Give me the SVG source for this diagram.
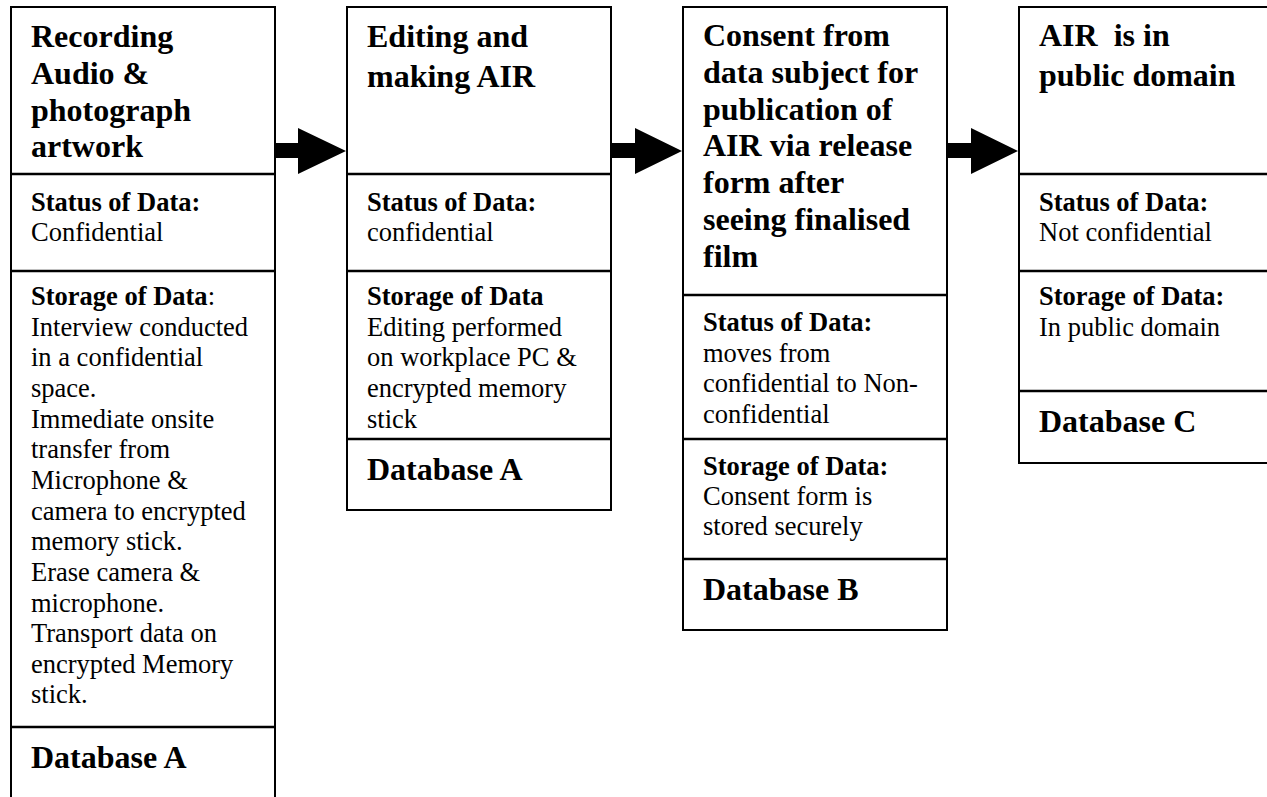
<svg xmlns="http://www.w3.org/2000/svg" width="1267" height="797" viewBox="0 0 1267 797">
<style>
.box{fill:#fff;stroke:#000;stroke-width:2}
.div{stroke:#000;stroke-width:2.5}
text{font-family:"Liberation Serif","Times New Roman",serif;fill:#000}
.t{font-size:32px;font-weight:bold}
.l{font-size:26.5px;font-weight:bold}
.b{font-size:26.5px}
.db{font-size:32px;font-weight:bold}
.arrow{fill:#000}
</style>
<rect width="1267" height="797" fill="#fff"/>
<g id="connectors">
<path class="arrow" d="M275,143 H298 V128 L346,151 L298,174 V158 H275 Z"/>
<path class="arrow" d="M611,143 H635 V128 L682,151 L635,174 V158 H611 Z"/>
<path class="arrow" d="M947,143 H971 V128 L1018,151 L971,174 V158 H947 Z"/>
</g>
<g id="node1">
<rect class="box" x="11" y="7" width="264" height="800"/>
<line class="div" x1="11" y1="174" x2="275" y2="174"/>
<line class="div" x1="11" y1="271" x2="275" y2="271"/>
<line class="div" x1="11" y1="727" x2="275" y2="727"/>
<text class="t" x="31" y="47">Recording</text>
<text class="t" x="31" y="83.8">Audio &amp;</text>
<text class="t" x="31" y="120.6">photograph</text>
<text class="t" x="31" y="157.4">artwork</text>
<text class="l" x="31" y="211">Status of Data:</text>
<text class="b" x="31" y="241">Confidential</text>
<text x="31" y="305"><tspan class="l">Storage of Data</tspan><tspan class="b">:</tspan></text>
<text class="b" x="31" y="335.6">Interview conducted</text>
<text class="b" x="31" y="366.3">in a confidential</text>
<text class="b" x="31" y="396.9">space.</text>
<text class="b" x="31" y="427.6">Immediate onsite</text>
<text class="b" x="31" y="458.2">transfer from</text>
<text class="b" x="31" y="488.9">Microphone &amp;</text>
<text class="b" x="31" y="519.5">camera to encrypted</text>
<text class="b" x="31" y="550.2">memory stick.</text>
<text class="b" x="31" y="580.8">Erase camera &amp;</text>
<text class="b" x="31" y="611.5">microphone.</text>
<text class="b" x="31" y="642.1">Transport data on</text>
<text class="b" x="31" y="672.8">encrypted Memory</text>
<text class="b" x="31" y="703.4">stick.</text>
<text class="db" x="31" y="768">Database A</text>
</g>
<g id="node2">
<rect class="box" x="347" y="7" width="264" height="503"/>
<line class="div" x1="347" y1="174" x2="611" y2="174"/>
<line class="div" x1="347" y1="271" x2="611" y2="271"/>
<line class="div" x1="347" y1="439" x2="611" y2="439"/>
<text class="t" x="367" y="47">Editing and</text>
<text class="t" x="367" y="86.5">making AIR</text>
<text class="l" x="367" y="211">Status of Data:</text>
<text class="b" x="367" y="241">confidential</text>
<text class="l" x="367" y="305">Storage of Data</text>
<text class="b" x="367" y="335.6">Editing performed</text>
<text class="b" x="367" y="366.3">on workplace PC &amp;</text>
<text class="b" x="367" y="396.9">encrypted memory</text>
<text class="b" x="367" y="427.6">stick</text>
<text class="db" x="367" y="480">Database A</text>
</g>
<g id="node3">
<rect class="box" x="683" y="7" width="264" height="623"/>
<line class="div" x1="683" y1="295" x2="947" y2="295"/>
<line class="div" x1="683" y1="439" x2="947" y2="439"/>
<line class="div" x1="683" y1="559" x2="947" y2="559"/>
<text class="t" x="703" y="46">Consent from</text>
<text class="t" x="703" y="82.8">data subject for</text>
<text class="t" x="703" y="119.6">publication of</text>
<text class="t" x="703" y="156.4">AIR via release</text>
<text class="t" x="703" y="193.2">form after</text>
<text class="t" x="703" y="230">seeing finalised</text>
<text class="t" x="703" y="266.8">film</text>
<text class="l" x="703" y="331">Status of Data:</text>
<text class="b" x="703" y="361.6">moves from</text>
<text class="b" x="703" y="392.3">confidential to Non-</text>
<text class="b" x="703" y="422.9">confidential</text>
<text class="l" x="703" y="475">Storage of Data:</text>
<text class="b" x="703" y="505">Consent form is</text>
<text class="b" x="703" y="535">stored securely</text>
<text class="db" x="703" y="600">Database B</text>
</g>
<g id="node4">
<rect class="box" x="1019" y="7" width="260" height="456"/>
<line class="div" x1="1019" y1="174" x2="1279" y2="174"/>
<line class="div" x1="1019" y1="271" x2="1279" y2="271"/>
<line class="div" x1="1019" y1="391" x2="1279" y2="391"/>
<text class="t" x="1039" y="46" xml:space="preserve">AIR  is in</text>
<text class="t" x="1039" y="86">public domain</text>
<text class="l" x="1039" y="211">Status of Data:</text>
<text class="b" x="1039" y="241">Not confidential</text>
<text class="l" x="1039" y="305">Storage of Data:</text>
<text class="b" x="1039" y="335.6">In public domain</text>
<text class="db" x="1039" y="432">Database C</text>
</g>
</svg>
